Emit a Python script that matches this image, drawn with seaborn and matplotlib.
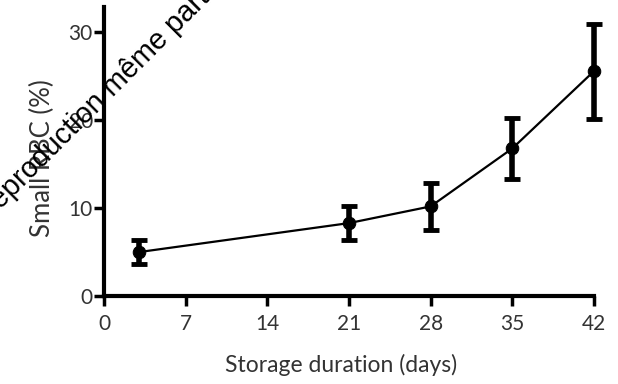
import numpy as np
import pandas as pd
import matplotlib
matplotlib.use("Agg")
import matplotlib.pyplot as plt
import seaborn as sns

# Data
days = [3, 21, 28, 35, 42]
small_rbc_mean = [5.0, 8.3, 10.2, 16.8, 25.6]
small_rbc_err = [1.35, 1.95, 2.7, 3.5, 5.4]
x_ticks = [0, 7, 14, 21, 28, 35, 42]
y_ticks = [0, 10, 20, 30]
x_label = "Storage duration (days)"
y_label = "Small RBC (%)"
watermark = "reproduction même partielle interdite"

df = pd.DataFrame({"day": days, "mean": small_rbc_mean, "err": small_rbc_err})

sns.set_theme(style="ticks")
plt.rcParams["font.family"] = ["Lato", "DejaVu Sans"]

fig = plt.figure(figsize=(6.18, 3.84), dpi=100)
ax = fig.add_axes([104 / 618, 1 - 296 / 384, (594 - 104) / 618, (296 - 7) / 384])

eb = ax.errorbar(df["day"], df["mean"], yerr=df["err"], fmt="none", ecolor="black",
                 elinewidth=4, capsize=6, capthick=3.5, zorder=3)
for art in list(eb.lines[1]) + list(eb.lines[2]):
    art.set_clip_on(False)
sns.lineplot(data=df, x="day", y="mean", ax=ax, color="black", linewidth=1.6,
             marker="o", markersize=9, markeredgecolor="black", zorder=4)
for ln in ax.lines:
    ln.set_clip_on(False)

ax.set_xlim(0, 42)
ax.set_ylim(0, 32.9)
ax.set_xticks(x_ticks)
ax.set_yticks(y_ticks)
ax.set_xlabel(x_label, fontsize=16.5, color="#333333", labelpad=14)
ax.set_ylabel(y_label, fontsize=18.5, color="#333333", labelpad=10)
ax.xaxis.label.set_x((341.5 - 104) / 490)
ax.yaxis.label.set_y((296 - 158) / 289)

for s in ["top", "right"]:
    ax.spines[s].set_visible(False)
for s in ["left", "bottom"]:
    ax.spines[s].set_linewidth(3)
    ax.spines[s].set_color("black")
    ax.spines[s].set_capstyle("projecting")

ax.tick_params(axis="both", which="major", length=7, width=2.5, color="black",
               labelsize=15, labelcolor="#333333", direction="out")
ax.tick_params(axis="x", pad=6)
ax.tick_params(axis="y", pad=1)

fig.text(-6 / 618, 1 - 217 / 384, watermark, rotation=45, rotation_mode="anchor",
         ha="left", va="baseline", fontsize=20.8, color="black",
         family=["Liberation Sans", "DejaVu Sans"], zorder=10)

fig.savefig("out.png", dpi=100)
